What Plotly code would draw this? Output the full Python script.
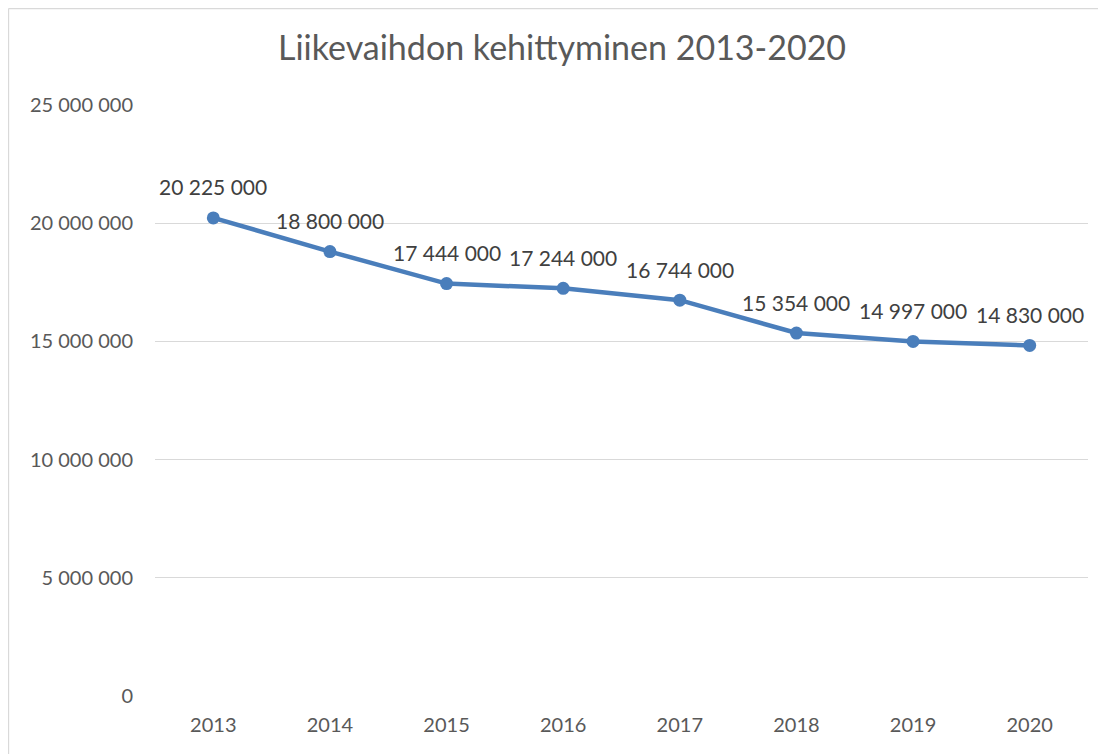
import plotly.graph_objects as go

years = ["2013", "2014", "2015", "2016", "2017", "2018", "2019", "2020"]
revenue = [20225000, 18800000, 17444000, 17244000, 16744000, 15354000, 14997000, 14830000]
y_ticks = [0, 5000000, 10000000, 15000000, 20000000, 25000000]
title_text = "Liikevaihdon kehittyminen 2013-2020"

def fmt(v):
    return f"{v:,}".replace(",", " ")

labels = [fmt(v) for v in revenue]

FONT = "Lato, Open Sans, sans-serif"
LINE = "#4a7ebb"
BORDER = dict(color="#d9d9d9", width=1.3)

fig = go.Figure(go.Scatter(
    x=years, y=revenue, mode="lines+markers",
    line=dict(color=LINE, width=4.5),
    marker=dict(color=LINE, size=13),
    cliponaxis=False, showlegend=False,
))

annotations = [
    dict(x=i, y=v, text=t, showarrow=False, yshift=31, xref="x", yref="y",
         font=dict(family=FONT, size=21, color="#404040"))
    for i, (v, t) in enumerate(zip(revenue, labels))
]

fig.update_layout(
    width=1098, height=746,
    margin=dict(l=147, r=18, t=97, b=58),
    paper_bgcolor="white", plot_bgcolor="white",
    title=dict(text=title_text, x=0.5046, xanchor="center", y=0.9464, yanchor="middle",
               font=dict(family=FONT, size=34, color="#595959")),
    font=dict(family=FONT, size=20, color="#595959"),
    xaxis=dict(type="category", range=[-0.5, 7.5], showgrid=False, showline=False,
               ticks="", ticklabelstandoff=15, tickfont=dict(size=20, color="#595959")),
    yaxis=dict(range=[0, 25000000], tickvals=y_ticks, ticktext=[fmt(v) for v in y_ticks],
               showgrid=True, gridcolor="#d9d9d9", gridwidth=1.3, zeroline=False,
               showline=False, ticks="", ticklabelstandoff=21,
               tickfont=dict(size=20, color="#595959")),
    annotations=annotations,
    shapes=[
        dict(type="line", xref="paper", yref="paper", x0=-0.157, x1=1.03,
             y0=1.1633, y1=1.1633, line=BORDER, layer="below"),
        dict(type="line", xref="paper", yref="paper", x0=-0.157, x1=-0.157,
             y0=-0.12, y1=1.1633, line=BORDER, layer="below"),
    ],
)

fig.write_html("out.html")
